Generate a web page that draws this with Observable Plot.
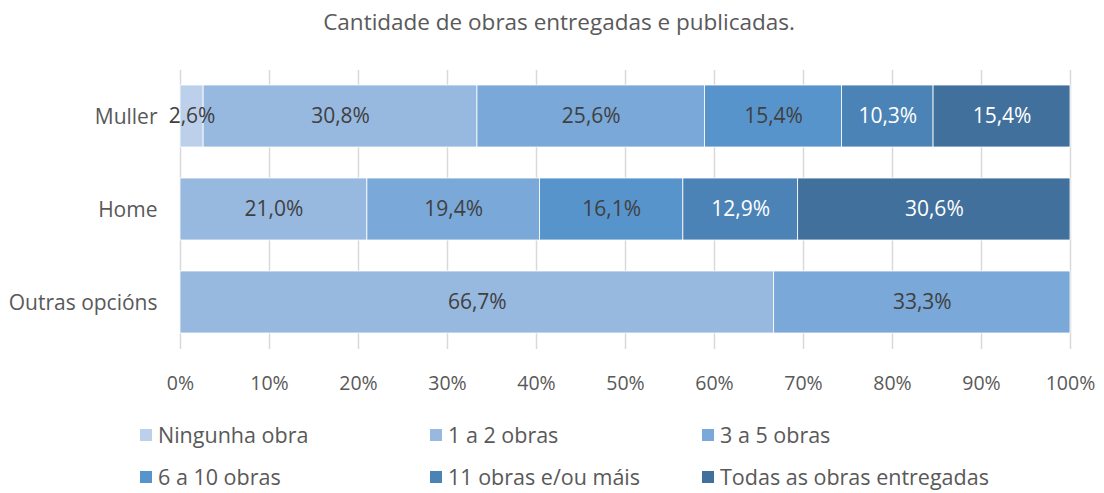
<!DOCTYPE html>
<html>
<head>
<meta charset="utf-8">
<script src="https://cdn.jsdelivr.net/npm/d3@7"></script>
<script src="https://cdn.jsdelivr.net/npm/@observablehq/plot@0.6"></script>
<style>
  body { margin: 0; background: #fff; font-family: "Open Sans", sans-serif; }
  #title { height: 45px; line-height: 44px; text-align: center; font-size: 22.5px; color: #595959; padding-left: 14px; }
  #legend { position: relative; height: 88px; font-size: 21.5px; color: #595959; }
  .item { position: absolute; display: flex; align-items: center; line-height: 24px; }
  .sw { width: 12px; height: 12px; margin-right: 6px; }
</style>
</head>
<body>
<div id="title">Cantidade de obras entregadas e publicadas.</div>
<div id="chart"></div>
<div id="legend"></div>
<script>
const categories = ["Muller", "Home", "Outras opcións"];
const series = ["Ningunha obra", "1 a 2 obras", "3 a 5 obras", "6 a 10 obras", "11 obras e/ou máis", "Todas as obras entregadas"];
const colors = ["#BDD0EB", "#97B9E0", "#7AA8D9", "#5894CC", "#4B83B7", "#41709C"];
const labelColors = ["#404040", "#404040", "#404040", "#404040", "#ffffff", "#ffffff"];
const muller = [2.6, 30.8, 25.6, 15.4, 10.3, 15.4];
const home = [0, 21.0, 19.4, 16.1, 12.9, 30.6];
const outras = [0, 66.7, 33.3, 0, 0, 0];
const xTicks = [0, 0.1, 0.2, 0.3, 0.4, 0.5, 0.6, 0.7, 0.8, 0.9, 1];

const values = [muller, home, outras];
const rows = [];
categories.forEach((c, i) => series.forEach((s, j) => {
  if (values[i][j] > 0) rows.push({cat: c, series: s, value: values[i][j], si: j});
}));

const stack = {x: "value", y: "cat", z: "series", order: series, offset: "normalize"};

const chart = Plot.plot({
  width: 1104,
  height: 360,
  marginTop: 25,
  marginBottom: 56,
  marginLeft: 180,
  marginRight: 34,
  style: {fontFamily: "'Open Sans', sans-serif", fontSize: "19px", color: "#595959", background: "#fff"},
  x: {domain: [0, 1], label: null},
  y: {domain: categories, paddingInner: 0.33, paddingOuter: 0.165, label: null},
  color: {domain: series, range: colors},
  marks: [
    Plot.ruleX(xTicks, {x: d => d, stroke: "#D9D9D9", strokeWidth: 1.5}),
    Plot.barX(rows, Plot.stackX({...stack, fill: "series", stroke: "#fff", strokeWidth: 0.8})),
    Plot.text(rows, Plot.stackX({...stack, text: d => d.value.toFixed(1).replace(".", ",") + "%", fill: d => labelColors[d.si], fontSize: 21})),
    Plot.axisX({ticks: xTicks, tickFormat: d => Math.round(d * 100) + "%", tickSize: 0, tickPadding: 27, fontSize: 19.5, label: null}),
    Plot.axisY({tickSize: 0, tickPadding: 23, fontSize: 21, dy: 1, label: null})
  ]
});
document.getElementById("chart").appendChild(chart);

const legend = document.getElementById("legend");
const pos = [[140, 0], [430, 0], [702, 0], [140, 1], [430, 1], [702, 1]];
series.forEach((s, i) => {
  const it = document.createElement("div");
  it.className = "item";
  it.style.left = pos[i][0] + "px";
  it.style.top = (18 + pos[i][1] * 42) + "px";
  it.innerHTML = `<span class="sw" style="background:${colors[i]}"></span><span>${s}</span>`;
  legend.appendChild(it);
});
</script>
</body>
</html>
